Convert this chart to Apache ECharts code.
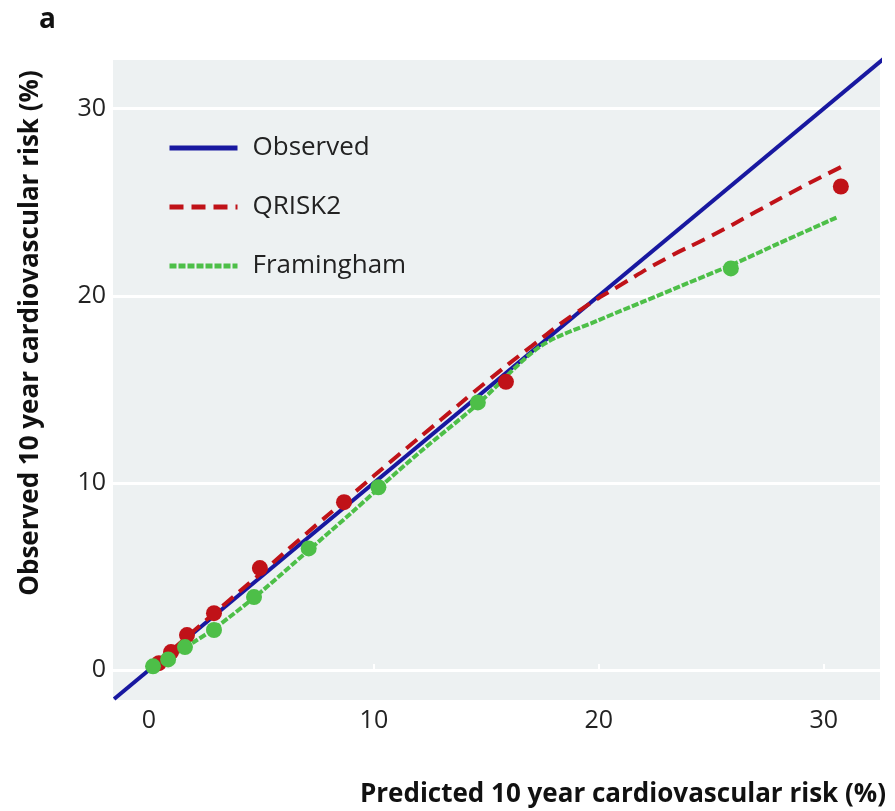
<!DOCTYPE html>
<html>
<head>
<meta charset="utf-8">
<script src="https://cdn.jsdelivr.net/npm/echarts@6/dist/echarts.min.js"></script>
<style>html,body{margin:0;padding:0;background:#fff;}#c{width:895px;height:811px;}</style>
</head>
<body>
<div id="c"></div>
<script>
var tickValues = [0, 10, 20, 30];
var observedLine = [[-1.55, -1.55], [32.8, 32.8]];
var qriskCurveX = [0.3, 1, 2, 3, 5, 7, 9, 11, 13, 15, 17, 19, 21, 23, 25, 27, 29, 30.8];
var qriskCurveY = [0.35, 1.05, 2.1, 3.15, 5.2, 7.3, 9.35, 11.4, 13.4, 15.4, 17.3, 19.1, 20.6, 22.0, 23.2, 24.5, 25.8, 26.9];
var framCurveX = [0.2, 1, 2, 3, 5, 7, 9, 10.2, 12, 14.6, 17.4, 20, 22, 24, 26, 28, 30.6];
var framCurveY = [0.2, 0.75, 1.5, 2.3, 4.2, 6.3, 8.4, 9.7, 11.6, 14.2, 17.3, 18.7, 19.7, 20.7, 21.7, 22.8, 24.2];
var qriskPtsX = [0.44, 0.98, 1.69, 2.89, 4.93, 8.67, 15.87, 30.76];
var qriskPtsY = [0.37, 0.96, 1.87, 3.04, 5.45, 8.97, 15.4, 25.84];
var framPtsX = [0.18, 0.85, 1.6, 2.89, 4.67, 7.1, 10.2, 14.62, 25.87];
var framPtsY = [0.2, 0.57, 1.23, 2.14, 3.9, 6.5, 9.77, 14.3, 21.46];

function zip(a, b) { return a.map(function (v, i) { return [v, b[i]]; }); }

var BLUE = '#1818a0', RED = '#c01218', GREEN = '#4dbf48';
var FONT = 'Open Sans';

var chart = echarts.init(document.getElementById('c'), null, { renderer: 'canvas' });
chart.setOption({
  animation: false,
  backgroundColor: '#ffffff',
  grid: { left: 113, right: 15, top: 60, bottom: 111, show: true, backgroundColor: '#edf1f2', borderWidth: 0 },
  xAxis: {
    type: 'value', min: -1.6, max: 32.5,
    axisLine: { show: false },
    axisTick: { show: true, inside: true, length: 6, lineStyle: { color: '#ffffff', width: 2 }, customValues: tickValues },
    axisLabel: { customValues: tickValues, fontFamily: FONT, fontSize: 25, color: '#222', margin: 8 },
    splitLine: { show: false }
  },
  yAxis: {
    type: 'value', min: -1.6, max: 32.6,
    axisLine: { show: false },
    axisTick: { show: false, customValues: tickValues },
    axisLabel: { customValues: tickValues, fontFamily: FONT, fontSize: 25, color: '#222', margin: 7 },
    splitLine: { show: true, lineStyle: { color: '#ffffff', width: 3 } }
  },
  legend: {
    orient: 'vertical', left: 167, top: 135, padding: 0, itemWidth: 68, itemHeight: 24, itemGap: 33,
    itemStyle: { opacity: 0, borderWidth: 0 },
    lineStyle: { width: 5 },
    textStyle: { fontFamily: FONT, fontSize: 26, color: '#222', padding: [0, 0, 0, 10] },
    data: ['Observed', 'QRISK2', 'Framingham']
  },
  series: [
    { name: 'Observed', type: 'line', data: observedLine, symbol: 'none', clip: false,
      lineStyle: { color: BLUE, width: 4 }, itemStyle: { color: BLUE }, z: 3 },
    { name: 'QRISK2', type: 'line', data: zip(qriskCurveX, qriskCurveY), symbol: 'none', smooth: true,
      lineStyle: { color: RED, width: 4, type: [14, 8] }, itemStyle: { color: RED }, z: 4 },
    { name: 'Framingham', type: 'line', data: zip(framCurveX, framCurveY), symbol: 'none', smooth: 0.3,
      lineStyle: { color: GREEN, width: 4, type: [7, 2] }, itemStyle: { color: GREEN }, z: 4 },
    { name: 'QRISK2 pts', type: 'scatter', data: zip(qriskPtsX, qriskPtsY), symbolSize: 16,
      itemStyle: { color: RED, opacity: 1 }, z: 5 },
    { name: 'Framingham pts', type: 'scatter', data: zip(framPtsX, framPtsY), symbolSize: 16,
      itemStyle: { color: GREEN, opacity: 1 }, z: 6 }
  ],
  graphic: [
    { type: 'text', left: 39, top: 6, style: { text: 'a', fontFamily: FONT, fontWeight: 'bold', fontSize: 28, fill: '#111' } },
    { type: 'text', x: 31, y: 333, rotation: Math.PI / 2,
      style: { text: 'Observed 10 year cardiovascular risk (%)', fontFamily: FONT, fontWeight: 'bold', fontSize: 26, fill: '#111', align: 'center', verticalAlign: 'middle' } },
    { type: 'text', x: 886, y: 795,
      style: { text: 'Predicted 10 year cardiovascular risk (%)', fontFamily: FONT, fontWeight: 'bold', fontSize: 26, fill: '#111', align: 'right', verticalAlign: 'middle' } }
  ]
});
</script>
</body>
</html>
